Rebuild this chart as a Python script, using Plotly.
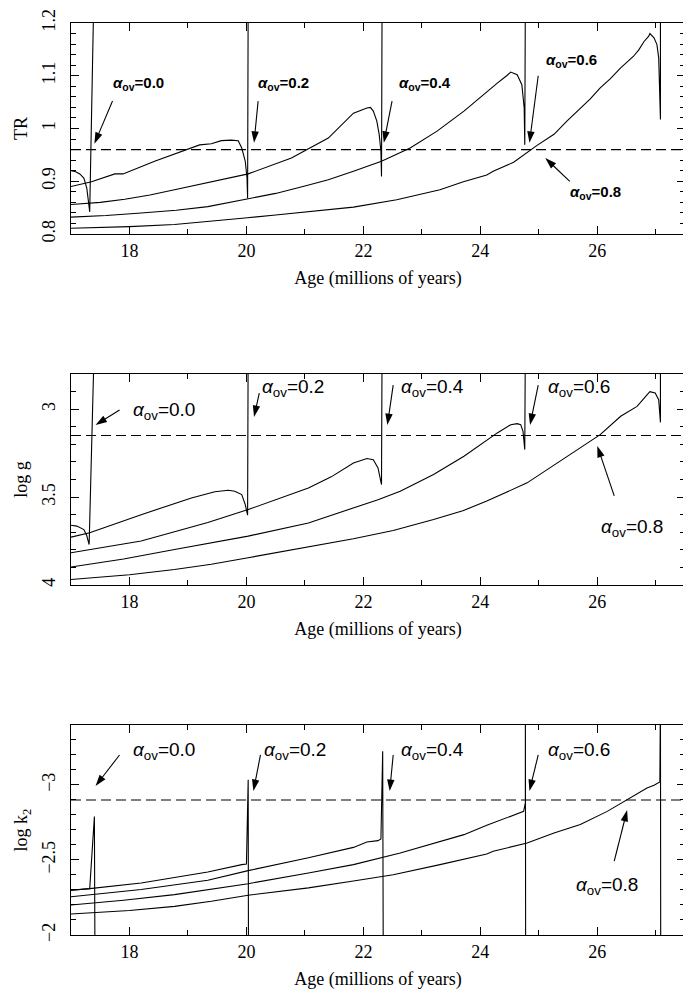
import plotly.graph_objects as go

# ---------------- data ----------------
alphas = ["0.0", "0.2", "0.4", "0.6", "0.8"]

# Panel 1: TR
tr_x_00 = [17.0, 17.08, 17.15, 17.22, 17.27, 17.3, 17.32, 17.39]
tr_y_00 = [0.92, 0.918, 0.914, 0.906, 0.887, 0.865, 0.842, 1.25]
tr_x_02 = [17.0, 17.35, 17.75, 17.89, 18.43, 19.0, 19.2, 19.4, 19.57, 19.74, 19.86, 19.92, 19.98, 20.01, 20.02, 20.03]
tr_y_02 = [0.89, 0.899, 0.914, 0.914, 0.938, 0.96, 0.969, 0.971, 0.977, 0.978, 0.977, 0.963, 0.938, 0.906, 0.868, 1.25]
tr_x_04 = [17.0, 17.5, 17.92, 18.35, 18.77, 19.46, 20.03, 20.77, 21.4, 21.83, 22.06, 22.12, 22.17, 22.23, 22.27, 22.3,
           22.31, 22.32]
tr_y_04 = [0.856, 0.86, 0.866, 0.874, 0.884, 0.9, 0.914, 0.944, 0.982, 1.029, 1.039, 1.04, 1.033, 1.014, 0.989, 0.957,
           0.909, 1.25]
tr_x_06 = [17.0, 17.6, 18.2, 18.8, 19.34, 20.02, 20.5, 21.0, 21.4, 21.83, 22.31, 22.8, 23.26, 23.72, 24.12, 24.29,
           24.45, 24.52, 24.63, 24.71, 24.75, 24.76, 24.77]
tr_y_06 = [0.832, 0.835, 0.84, 0.845, 0.852, 0.867, 0.877, 0.891, 0.903, 0.919, 0.938, 0.963, 0.995, 1.033, 1.071, 1.086,
           1.1, 1.107, 1.102, 1.083, 1.039, 0.969, 1.25]
tr_x_08 = [17.0, 18.0, 18.77, 19.4, 20.02, 20.5, 21.06, 21.83, 22.57, 23.31, 23.71, 24.11, 24.22, 24.57, 24.97, 25.26,
           25.48, 25.71, 25.88, 26.05, 26.22, 26.4, 26.62, 26.71, 26.8, 26.88, 26.9, 26.97, 27.02, 27.05, 27.07, 27.08,
           27.08]
tr_y_08 = [0.811, 0.814, 0.818, 0.824, 0.831, 0.836, 0.842, 0.851, 0.865, 0.884, 0.899, 0.912, 0.919, 0.936, 0.968,
           0.989, 1.014, 1.039, 1.056, 1.077, 1.094, 1.115, 1.137, 1.149, 1.165, 1.175, 1.18, 1.172, 1.159, 1.134, 1.071,
           1.017, 1.25]

# Panel 2: log g
lg_x_00 = [17.0, 17.1, 17.22, 17.27, 17.31, 17.40]
lg_y_00 = [3.66, 3.665, 3.685, 3.72, 3.77, 2.6]
lg_x_02 = [17.0, 17.32, 18.2, 19.06, 19.46, 19.69, 19.8, 19.92, 19.98, 20.02, 20.03]
lg_y_02 = [3.728, 3.703, 3.6, 3.505, 3.47, 3.461, 3.467, 3.486, 3.543, 3.603, 2.6]
lg_x_04 = [17.0, 18.2, 19.34, 20.03, 21.06, 21.45, 21.83, 22.06, 22.17, 22.25, 22.31, 22.32]
lg_y_04 = [3.817, 3.75, 3.645, 3.571, 3.448, 3.385, 3.306, 3.281, 3.287, 3.334, 3.429, 2.6]
lg_x_06 = [17.0, 17.9, 18.77, 19.4, 20.03, 21.06, 21.45, 21.83, 22.25, 22.63, 23.2, 23.72, 24.0, 24.29, 24.52, 24.63,
           24.69, 24.73, 24.76, 24.77]
lg_y_06 = [3.898, 3.852, 3.798, 3.762, 3.722, 3.647, 3.605, 3.561, 3.515, 3.467, 3.372, 3.268, 3.202, 3.135, 3.088,
           3.082, 3.088, 3.126, 3.23, 2.6]
lg_x_08 = [17.0, 18.0, 18.77, 19.4, 20.03, 20.5, 21.06, 21.83, 22.51, 23.2, 23.7, 24.11, 24.8, 25.26, 25.71, 26.05,
           26.4, 26.68, 26.85, 26.9, 26.99, 27.05, 27.08, 27.08]
lg_y_08 = [3.969, 3.942, 3.912, 3.882, 3.845, 3.817, 3.782, 3.737, 3.69, 3.628, 3.578, 3.523, 3.419, 3.319, 3.224,
           3.145, 3.04, 2.984, 2.918, 2.9, 2.908, 2.946, 3.075, 2.6]

# Panel 3: log k2
lk_x_00 = [17.0, 17.32, 17.40, 17.41]
lk_y_00 = [-2.298, -2.309, -2.79, -1.8]
lk_x_02 = [17.0, 17.32, 18.2, 19.34, 19.92, 20.0, 20.03, 20.035]
lk_y_02 = [-2.298, -2.309, -2.347, -2.42, -2.469, -2.473, -3.035, -1.8]
lk_x_04 = [17.0, 18.2, 19.34, 20.03, 21.06, 21.83, 22.06, 22.25, 22.3, 22.33, 22.34]
lk_y_04 = [-2.255, -2.303, -2.365, -2.429, -2.515, -2.584, -2.62, -2.629, -2.64, -3.224, -1.8]
lk_x_06 = [17.0, 17.9, 18.77, 19.4, 20.03, 21.06, 21.83, 22.63, 23.43, 23.72, 24.11, 24.29, 24.57, 24.74, 24.77, 24.77,
           24.775]
lk_y_06 = [-2.2, -2.232, -2.269, -2.305, -2.342, -2.413, -2.469, -2.547, -2.636, -2.669, -2.731, -2.758, -2.802, -2.824,
           -2.88, -3.6, -1.8]
lk_x_08 = [17.0, 18.0, 18.77, 19.4, 20.03, 21.06, 21.83, 22.51, 23.31, 24.11, 24.22, 24.8, 25.26, 25.71, 26.17, 26.62,
           26.85, 26.97, 27.05, 27.07, 27.08, 27.085]
lk_y_08 = [-2.14, -2.163, -2.191, -2.225, -2.265, -2.314, -2.36, -2.402, -2.469, -2.54, -2.558, -2.613, -2.68, -2.736,
           -2.824, -2.924, -2.98, -2.998, -3.013, -3.02, -3.6, -1.8]

thresholds = [0.96, 3.15, -2.9]
y_titles = ["TR", "log g", "log k<sub>2</sub>"]
x_title = "Age (millions of years)"

# arrows: (head x, head y, tail x, tail y) and label centres, in data coords per panel
arrows_tr = [(17.40, 0.971, 17.71, 1.052), (20.13, 0.973, 20.20, 1.052), (22.35, 0.973, 22.49, 1.052),
             (24.84, 0.973, 24.99, 1.100), (25.11, 0.944, 25.53, 0.900)]
labels_tr = [(18.16, 1.086), (20.64, 1.086), (23.06, 1.086), (25.56, 1.128), (25.97, 0.878)]
arrows_lg = [(17.42, 3.09, 17.83, 3.005), (20.13, 3.044, 20.22, 2.908), (22.41, 3.09, 22.51, 2.863),
             (24.85, 3.09, 24.99, 2.863), (26.0, 3.209, 26.29, 3.493)]
labels_lg = [(18.59, 3.01), (20.80, 2.88), (23.18, 2.88), (25.68, 2.88), (26.59, 3.675)]
arrows_lk = [(17.42, -2.993, 17.83, -3.2), (20.12, -2.96, 20.24, -3.2), (22.45, -2.96, 22.51, -3.2),
             (24.84, -2.96, 24.99, -3.2), (26.51, -2.833, 26.29, -2.493)]
labels_lk = [(18.59, -3.227), (20.83, -3.227), (23.18, -3.227), (25.68, -3.227), (26.17, -2.327)]

panels = [
    ([tr_x_00, tr_x_02, tr_x_04, tr_x_06, tr_x_08], [tr_y_00, tr_y_02, tr_y_04, tr_y_06, tr_y_08], arrows_tr, labels_tr),
    ([lg_x_00, lg_x_02, lg_x_04, lg_x_06, lg_x_08], [lg_y_00, lg_y_02, lg_y_04, lg_y_06, lg_y_08], arrows_lg, labels_lg),
    ([lk_x_00, lk_x_02, lk_x_04, lk_x_06, lk_x_08], [lk_y_00, lk_y_02, lk_y_04, lk_y_06, lk_y_08], arrows_lk, labels_lk),
]

# ---------------- figure ----------------
W, H = 691, 992
ML, MR, MT, MB = 63, 14, 15, 65
fig = go.Figure()

serif = "Liberation Serif, Times New Roman, serif"
sans = "Liberation Sans, Arial, sans-serif"

for p, (xs, ys, arrows, labels) in enumerate(panels):
    xa = "x" if p == 0 else f"x{p+1}"
    ya = "y" if p == 0 else f"y{p+1}"
    for a, x, y in zip(alphas, xs, ys):
        fig.add_trace(go.Scatter(x=x, y=y, mode="lines", xaxis=xa, yaxis=ya,
                                 line=dict(color="black", width=1.1), showlegend=False,
                                 name=f"αov={a}", hoverinfo="skip"))
    fig.add_shape(type="line", xref=f"{xa} domain", x0=0, x1=1, yref=ya, y0=thresholds[p], y1=thresholds[p],
                  line=dict(color="black", width=1.1, dash="10px,5px"))
    big = p > 0
    for a, (hx, hy, tx, ty), (lx, ly) in zip(alphas, arrows, labels):
        fig.add_trace(go.Scatter(x=[tx, hx], y=[ty, hy], mode="lines+markers", xaxis=xa, yaxis=ya,
                                 line=dict(color="black", width=1.1),
                                 marker=dict(symbol="arrow", size=12, angleref="previous", color="black",
                                             line=dict(width=0)),
                                 showlegend=False, hoverinfo="skip"))
        txt = f"<i>α</i><sub>ov</sub>={a}"
        if not big:
            txt = f"<b>{txt}</b>"
        fig.add_annotation(x=lx, y=ly, xref=xa, yref=ya, text=txt, showarrow=False,
                           font=dict(family=sans, size=19 if big else 15, color="black"),
                           xanchor="center", yanchor="middle")

axis_common = dict(showline=True, linecolor="black", linewidth=1.3, mirror="ticks", ticks="inside",
                   ticklen=8, tickwidth=1.1, tickcolor="black", showgrid=False, zeroline=False,
                   tickfont=dict(family=serif, size=18, color="black"))

domains = [[0.7686, 1.0], [0.3838, 0.6151], [0.0, 0.2303]]
yranges = [[0.8, 1.2], [4.0, 2.8], [-2.0, -3.4]]
ydticks = [0.1, 0.5, 0.5]
ytick0 = [0.8, 3.0, -3.0]
yminor = [0.02, 0.1, 0.1]

for p in range(3):
    xk = "xaxis" if p == 0 else f"xaxis{p+1}"
    yk = "yaxis" if p == 0 else f"yaxis{p+1}"
    ya = "y" if p == 0 else f"y{p+1}"
    xa = "x" if p == 0 else f"x{p+1}"
    fig.layout[xk] = dict(axis_common, domain=[0, 1], anchor=ya, range=[17.0, 27.5], tick0=18, dtick=2,
                          minor=dict(dtick=1, tick0=17, ticks="inside", ticklen=5, tickcolor="black", showgrid=False),
                          title=dict(text=x_title, font=dict(family=serif, size=18, color="black"), standoff=11))
    fig.layout[yk] = dict(axis_common, domain=domains[p], anchor=xa, range=yranges[p], tick0=ytick0[p],
                          dtick=ydticks[p], tickangle=-90, ticklabelstandoff=8,
                          minor=dict(dtick=yminor[p], tick0=ytick0[p], ticks="inside", ticklen=5,
                                     tickcolor="black", showgrid=False),
                          title=dict(text=y_titles[p], font=dict(family=serif, size=18, color="black"), standoff=6))

fig.update_layout(width=W, height=H, margin=dict(l=ML, r=MR, t=MT, b=MB, autoexpand=False),
                  plot_bgcolor="white", paper_bgcolor="white", showlegend=False)

fig.write_html("out.html")
